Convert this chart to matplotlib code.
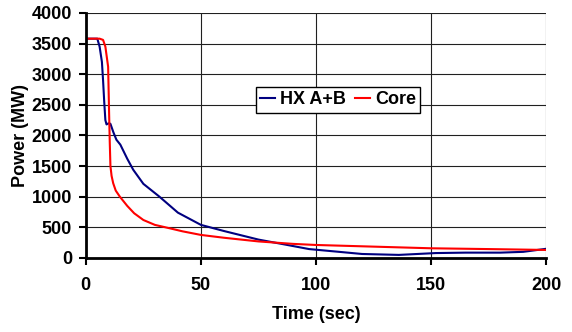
import matplotlib.pyplot as plt

# heat exchanger power (HX A+B) vs time
hx_time = [0, 5, 6, 7, 7.5, 8, 8.5, 9, 10, 10.7, 12, 13.3, 15, 18, 20.6, 25, 32, 40, 50, 60, 75, 85, 97, 110, 120, 136, 152, 165, 180, 190, 200]
hx_power = [3580, 3580, 3450, 3200, 2900, 2550, 2250, 2180, 2200, 2190, 2050, 1930, 1850, 1620, 1440, 1210, 1000, 740, 540, 440, 300, 230, 145, 100, 65, 50, 80, 87, 87, 100, 150]

# core power vs time
core_time = [0, 6, 7.5, 8.5, 9.7, 10.1, 10.4, 10.7, 11.2, 11.9, 13, 14.8, 18, 21, 25, 30, 36.5, 42, 50, 60, 75, 90, 100, 125, 150, 175, 200]
core_power = [3580, 3580, 3560, 3450, 3120, 2400, 1900, 1500, 1340, 1220, 1100, 1000, 850, 730, 620, 540, 484, 435, 376, 330, 270, 230, 212, 185, 158, 145, 131]

font = {'family': 'Liberation Sans', 'weight': 'bold', 'size': 13}

fig, ax = plt.subplots(figsize=(5.72, 3.32), dpi=100)
fig.subplots_adjust(left=0.150, right=0.955, top=0.961, bottom=0.223)

ax.plot(hx_time, hx_power, color='#000080', lw=1.5, label='HX A+B')
ax.plot(core_time, core_power, color='#ff0000', lw=1.5, label='Core')

ax.set_xlim(0, 200)
ax.set_ylim(0, 4000)
ax.set_xticks(range(0, 201, 50))
ax.set_yticks(range(0, 4001, 500))
ax.grid(True, color='#202020', lw=0.8)
ax.set_axisbelow(True)

for s in ['top', 'right']:
    ax.spines[s].set_visible(False)
for s in ['left', 'bottom']:
    ax.spines[s].set_linewidth(2)
ax.tick_params(direction='out', length=5, width=1.5)
ax.tick_params(axis='x', pad=9)
ax.tick_params(axis='y', pad=5)

for lab in ax.get_xticklabels() + ax.get_yticklabels():
    lab.set_fontproperties(font)

ax.set_xlabel('Time (sec)', fontdict=font, labelpad=8)
ax.set_ylabel('Power (MW)', fontdict=font, labelpad=2)

leg = ax.legend(loc='center', bbox_to_anchor=(0.548, 0.645), ncol=2, fancybox=False,
                framealpha=1, edgecolor='black', handlelength=0.8, handletextpad=0.3,
                columnspacing=0.5, borderpad=0.25, borderaxespad=0, prop=font)
leg.get_frame().set_linewidth(1)

plt.savefig('out.png', dpi=100)
